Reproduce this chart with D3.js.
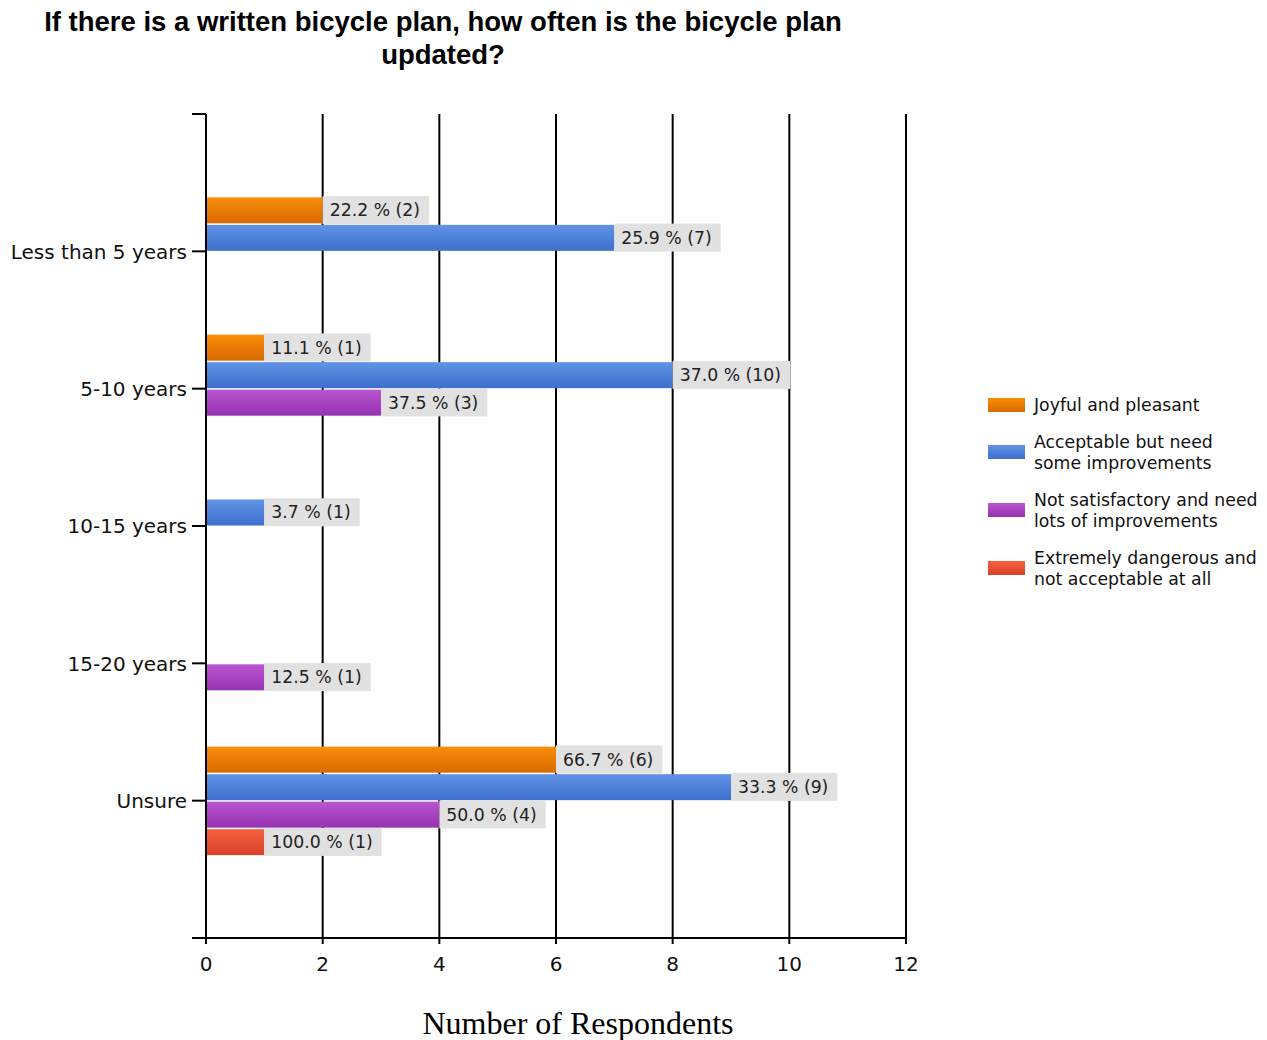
<!DOCTYPE html>
<html><head><meta charset="utf-8">
<script src="https://cdn.jsdelivr.net/npm/d3@7"></script>
<style>body{margin:0;background:#fff}</style>
</head><body>
<script>
const categories = ["Less than 5 years","5-10 years","10-15 years","15-20 years","Unsure"];
const seriesNames = ["Joyful and pleasant","Acceptable but need some improvements","Not satisfactory and need lots of improvements","Extremely dangerous and not acceptable at all"];
const legendLines = [["Joyful and pleasant"],["Acceptable but need","some improvements"],["Not satisfactory and need","lots of improvements"],["Extremely dangerous and","not acceptable at all"]];
// bar lengths as drawn in the picture
const joyfulBars = [2,1,0,0,6];
const acceptableBars = [7,8,1,0,9];
const notSatBars = [0,3,0,1,4];
const dangerousBars = [0,0,0,0,1];
// data labels as printed
const joyfulLabels = ["22.2 % (2)","11.1 % (1)",null,null,"66.7 % (6)"];
const acceptableLabels = ["25.9 % (7)","37.0 % (10)","3.7 % (1)",null,"33.3 % (9)"];
const notSatLabels = [null,"37.5 % (3)",null,"12.5 % (1)","50.0 % (4)"];
const dangerousLabels = [null,null,null,null,"100.0 % (1)"];
const xTicks = [0,2,4,6,8,10,12];
const title = ["If there is a written bicycle plan, how often is the bicycle plan","updated?"];
const xTitle = "Number of Respondents";

const counts = [joyfulBars, acceptableBars, notSatBars, dangerousBars];
const labels = [joyfulLabels, acceptableLabels, notSatLabels, dangerousLabels];
const colors = [["#f88e0a","#d96a00"],["#6193e6","#3d6fcc"],["#bb55d2","#9633b0"],["#f5613f","#d9402a"]];

const W=1267,H=1040;
const svg=d3.select("body").append("svg").attr("width",W).attr("height",H);
const defs=svg.append("defs");
colors.forEach((c,i)=>{
  const g=defs.append("linearGradient").attr("id","g"+i).attr("x1",0).attr("y1",0).attr("x2",0).attr("y2",1);
  g.append("stop").attr("offset","0%").attr("stop-color",c[0]);
  g.append("stop").attr("offset","100%").attr("stop-color",c[1]);
});

const pL=206,pR=906,pT=114,pB=938;
const x=d3.scaleLinear().domain([0,12]).range([pL,pR]);
const y=d3.scalePoint().domain(categories).range([pT,pB]).padding(1);
const slot=27.5;
const inner=d3.scaleBand().domain(d3.range(4)).range([-2*slot,2*slot]);

// title
svg.append("g").selectAll("text").data(title).join("text")
  .attr("x",443).attr("y",(d,i)=>31+i*33).attr("text-anchor","middle")
  .attr("font-family","Liberation Sans, Arial, sans-serif").attr("font-weight","bold")
  .attr("font-size",27.5).attr("fill","#000").text(d=>d);

// grid
svg.append("g").selectAll("line").data(xTicks.filter(d=>d>0)).join("line")
  .attr("x1",d=>x(d)).attr("x2",d=>x(d)).attr("y1",pT).attr("y2",pB)
  .attr("stroke","#000").attr("stroke-width",2);

// bars
const bars=[];
counts.forEach((arr,s)=>arr.forEach((v,c)=>{ if(v>0) bars.push({s,c,v,p:labels[s][c]}); }));
const bg=svg.append("g");
bg.selectAll("rect").data(bars).join("rect")
  .attr("x",x(0)).attr("y",d=>y(categories[d.c])+inner(d.s)+1)
  .attr("width",d=>x(d.v)-x(0)).attr("height",slot-1.5)
  .attr("fill",d=>"url(#g"+d.s+")");

// labels
const lg=svg.append("g");
bars.forEach(d=>{
  const cy=y(categories[d.c])+inner(d.s)+slot/2;
  const g=lg.append("g");
  const r=g.append("rect").attr("fill","#e1e1e1");
  const t=g.append("text").attr("x",x(d.v)+7).attr("y",cy).attr("dy","0.36em")
    .attr("font-family","DejaVu Sans, sans-serif").attr("font-size",17.3).attr("fill","#222")
    .text(d.p);
  const w=t.node().getComputedTextLength();
  r.attr("x",x(d.v)).attr("y",cy-14).attr("width",w+16).attr("height",28);
});

// axes
const ax=svg.append("g").attr("stroke","#000").attr("stroke-width",2);
ax.append("line").attr("x1",pL).attr("x2",pL).attr("y1",pT).attr("y2",pB);
ax.append("line").attr("x1",pL-14).attr("x2",pR).attr("y1",pB).attr("y2",pB);
ax.append("line").attr("x1",pL-14).attr("x2",pL).attr("y1",pT).attr("y2",pT);
ax.selectAll(".yt").data(categories).join("line").attr("class","yt")
  .attr("x1",pL-14).attr("x2",pL).attr("y1",d=>y(d)).attr("y2",d=>y(d));
ax.selectAll(".xt").data(xTicks).join("line").attr("class","xt")
  .attr("x1",d=>x(d)).attr("x2",d=>x(d)).attr("y1",pB).attr("y2",pB+6);

svg.append("g").selectAll("text").data(categories).join("text")
  .attr("x",187).attr("y",d=>y(d)).attr("dy","0.36em").attr("text-anchor","end")
  .attr("font-family","DejaVu Sans, sans-serif").attr("font-size",20).attr("fill","#111").text(d=>d);

svg.append("g").selectAll("text").data(xTicks).join("text")
  .attr("x",d=>x(d)).attr("y",964).attr("dy","0.36em").attr("text-anchor","middle")
  .attr("font-family","DejaVu Sans, sans-serif").attr("font-size",20).attr("fill","#111").text(d=>d);

svg.append("text").attr("x",578).attr("y",1034).attr("text-anchor","middle")
  .attr("font-family","Liberation Serif, Times New Roman, serif").attr("font-size",32).attr("fill","#000").text(xTitle);

// legend
const legY=[405,452,510,568];
const leg=svg.append("g");
legendLines.forEach((lines,i)=>{
  leg.append("rect").attr("x",988).attr("y",legY[i]-7).attr("width",37).attr("height",14).attr("fill","url(#g"+i+")");
  lines.forEach((l,j)=>{
    leg.append("text").attr("x",1034).attr("y",legY[i]+(j-(lines.length-1)/2)*21).attr("dy","0.36em")
      .attr("font-family","DejaVu Sans, sans-serif").attr("font-size",17.3).attr("fill","#111").text(l);
  });
});
</script>
</body></html>
